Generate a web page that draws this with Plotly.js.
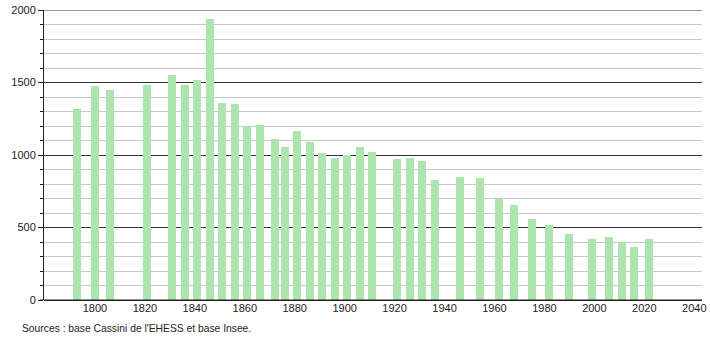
<!DOCTYPE html>
<html>
<head>
<meta charset="utf-8">
<script src="https://cdn.plot.ly/plotly-3.0.1.min.js"></script>
<style>html,body{margin:0;padding:0;background:#fff;}#chart{width:710px;height:340px;}</style>
</head>
<body>
<div id="chart"></div>
<script>
const years = [1793,1800,1806,1821,1831,1836,1841,1846,1851,1856,1861,1866,1872,1876,1881,1886,1891,1896,1901,1906,1911,1921,1926,1931,1936,1946,1954,1962,1968,1975,1982,1990,1999,2006,2011,2016,2022];
const population = [1319,1473,1446,1485,1549,1485,1519,1940,1356,1349,1202,1209,1110,1057,1169,1087,1011,981,997,1057,1018,974,981,961,830,850,841,697,653,559,515,457,423,437,400,363,423];
const yTicks = [0,500,1000,1500,2000];
const xTicks = [1800,1820,1840,1860,1880,1900,1920,1940,1960,1980,2000,2020,2040];
const sourceText = "Sources : base Cassini de l'EHESS et base Insee.";

const font = {family: '"Liberation Sans", Arial, sans-serif', size: 11, color: '#222'};

Plotly.newPlot('chart', [{
  type: 'bar',
  x: years,
  y: population,
  width: 3.2,
  marker: {color: 'rgb(174,228,174)', line: {width: 0}},
  hoverinfo: 'x+y'
}], {
  width: 710, height: 340,
  margin: {l: 44, r: 8, t: 10, b: 40},
  paper_bgcolor: '#fff', plot_bgcolor: '#fff',
  font: font,
  showlegend: false,
  bargap: 0,
  xaxis: {
    range: [1779.6, 2043.1],
    tickvals: xTicks,
    ticktext: xTicks.map(String),
    showgrid: false, zeroline: false,
    showline: false,
    ticks: '',
    tickfont: font
  },
  yaxis: {
    range: [0, 2000],
    tickvals: yTicks,
    ticktext: yTicks.map(String),
    showgrid: true, gridcolor: '#333', gridwidth: 1,
    zeroline: true, zerolinecolor: '#222', zerolinewidth: 1,
    showline: true, linecolor: '#222', linewidth: 1,
    ticks: 'outside', ticklen: 5, tickcolor: '#222',
    minor: {dtick: 100, showgrid: true, gridcolor: '#c8c8c8', gridwidth: 1, ticks: 'outside', ticklen: 3, tickcolor: '#222'},
    tickfont: font
  },
  shapes: [
    {type: 'line', xref: 'paper', yref: 'y', x0: -0.006, x1: 1, y0: 0, y1: 0, line: {color: '#222', width: 1}},
    {type: 'line', xref: 'paper', yref: 'y', x0: 0, x1: 1, y0: 2000, y1: 2000, line: {color: '#333', width: 1}}
  ],
  annotations: [{
    text: sourceText, xref: 'paper', yref: 'paper', x: -0.036, y: -0.072,
    xanchor: 'left', yanchor: 'top', showarrow: false,
    font: {family: '"Liberation Sans", Arial, sans-serif', size: 10.3, color: '#222'}
  }]
}, {staticPlot: true});
</script>
</body>
</html>
